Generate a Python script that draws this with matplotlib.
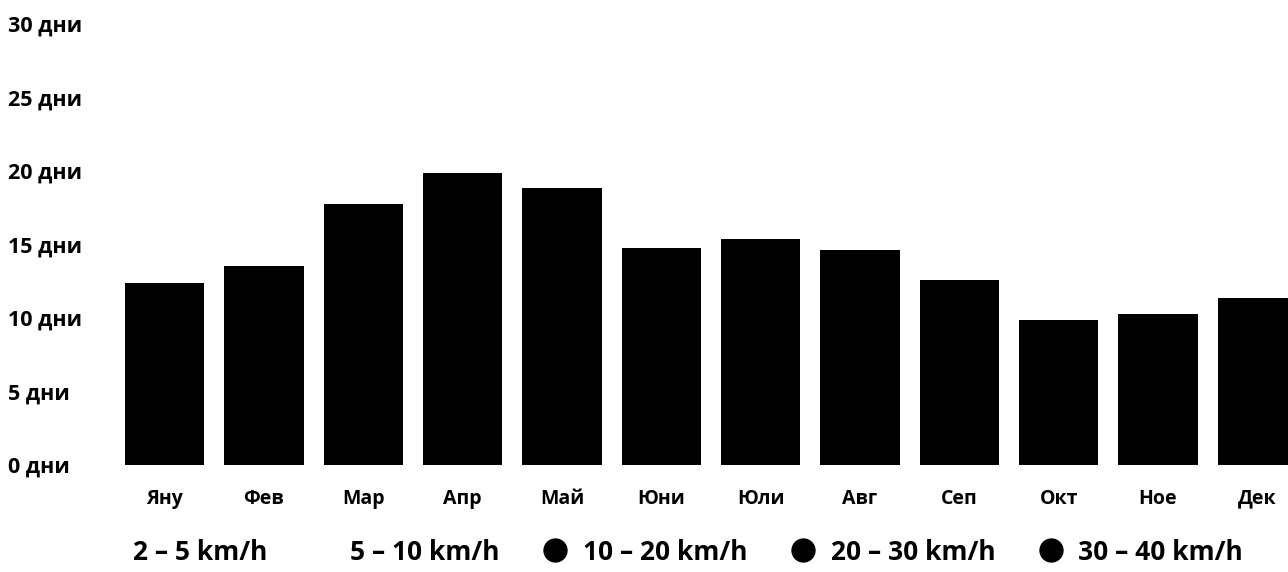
import matplotlib
matplotlib.use("Agg")
import matplotlib.pyplot as plt
from matplotlib.lines import Line2D

months = ["Яну", "Фев", "Мар", "Апр", "Май", "Юни", "Юли", "Авг", "Сеп", "Окт", "Ное", "Дек"]
days = [12.35, 13.55, 17.75, 19.85, 18.85, 14.75, 15.35, 14.65, 12.6, 9.85, 10.25, 11.35]
y_ticks = [0, 5, 10, 15, 20, 25, 30]
y_labels = [f"{v} дни" for v in y_ticks]
legend_labels = ["2 – 5 km/h", "5 – 10 km/h", "10 – 20 km/h", "20 – 30 km/h", "30 – 40 km/h"]
legend_colors = ["white", "white", "black", "black", "black"]

plt.rcParams['font.family'] = ['Open Sans', 'DejaVu Sans']

W, H = 1288, 572
fig = plt.figure(figsize=(W / 100, H / 100), dpi=100)
left_px, right_px = 115, 1288
bottom_px, top_px = 465, 24
ax = fig.add_axes([left_px / W, 1 - bottom_px / H, (right_px - left_px) / W, (bottom_px - top_px) / H])

x = list(range(len(months)))
ax.bar(x, days, width=0.8, color="black")
spacing = 99.3
ax.set_xlim(-0.5, (right_px - 165) / spacing)
ax.set_ylim(0, 30)
ax.set_yticks(y_ticks)
ax.set_yticklabels(y_labels, fontsize=15.5, fontweight="bold")
for lab in ax.get_yticklabels():
    lab.set_horizontalalignment("left")
ax.tick_params(axis="y", length=0, pad=(left_px - 8) * 0.72)
ax.set_xticks(x)
ax.set_xticklabels(months, fontsize=14, fontweight="bold")
ax.tick_params(axis="x", length=0, pad=17)
for s in ax.spines.values():
    s.set_visible(False)

handles = [Line2D([], [], linestyle="none", marker="o", markersize=16.5,
                  markerfacecolor=c, markeredgecolor=c) for c in legend_colors]
leg = fig.legend(handles, legend_labels, loc="center left", bbox_to_anchor=(92 / W, 1 - 552 / H),
                 ncol=5, frameon=False, prop={"weight": "bold", "size": 19},
                 handlelength=1.0, handletextpad=0.55, columnspacing=1.6, borderaxespad=0, borderpad=0)

fig.savefig("out.png", dpi=100)
